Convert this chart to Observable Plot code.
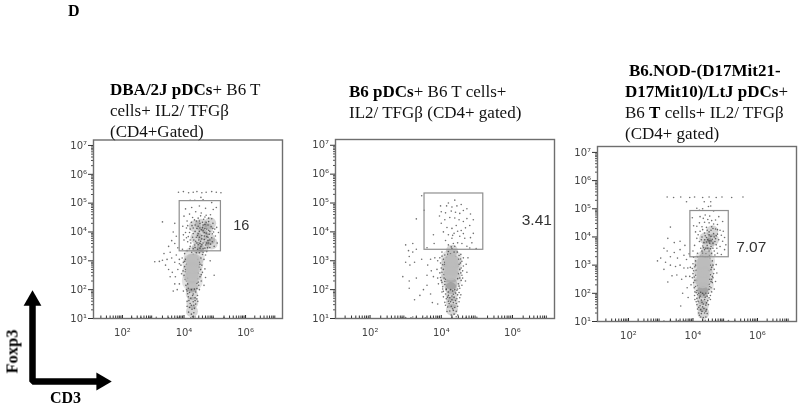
<!DOCTYPE html>
<html><head><meta charset="utf-8">
<script src="https://cdn.jsdelivr.net/npm/d3@7"></script>
<script src="https://cdn.jsdelivr.net/npm/@observablehq/plot@0.6"></script>
<style>
html,body{margin:0;padding:0;background:#fff;}
#page{position:relative;width:800px;height:408px;overflow:hidden;background:#fff;font-family:"Liberation Serif",serif;color:#111;}
.t{position:absolute;font-size:17px;line-height:21px;white-space:nowrap;filter:blur(.3px);}
.t b{color:#000}
.p{position:absolute;filter:blur(.55px);}
.p svg{background:transparent;}
</style></head><body><div id="page"></div>
<script>
// All cloud values are log10 exponents: [CD3, Foxp3]
const majorY=[1,2,3,4,5,6,7];
const majorX=[2,4,6];
const minorOffsets=[0.3,0.48,0.6,0.7,0.78,0.85,0.9,0.95];
const supers={1:"¹",2:"²",3:"³",4:"⁴",5:"⁵",6:"⁶",7:"⁷"};

const gate1X=[3.86,5.2], gate1Y=[3.33,5.07];
const gate2X=[3.53,5.18], gate2Y=[3.38,5.33];
const gate3X=[3.92,5.11], gate3Y=[3.28,4.92];

const core1=[[4.25,2.42],[4.27,2.62],[4.28,2.82],[4.29,3.02]];
const haze1=[[4.27,2.3],[4.27,2.6],[4.29,2.9],[4.33,3.15]];
const tail1=[[4.26,1.25],[4.27,1.55],[4.25,1.85],[4.26,2.1],[4.45,3.45],[4.62,3.5],[4.4,3.8],[4.82,3.75],[4.55,4.25],[4.75,4.1],[4.6,3.9],[4.9,3.6],[4.35,4.2],[4.85,4.3]];
const dots1=[[4.55,3.5],[4.62,3.62],[4.48,3.72],[4.7,3.55],[4.35,3.55],[4.4,3.82],[4.78,3.7],[4.86,3.58],[4.58,3.88],[4.66,3.98],[4.5,4.02],[4.82,3.92],[4.9,3.8],[4.3,3.95],[4.42,4.12],[4.6,4.15],[4.74,4.1],[4.96,4.0],[5.02,3.86],[4.88,4.18],[4.68,4.26],[4.52,4.3],[4.36,4.24],[4.2,4.1],[4.14,3.84],[4.22,3.62],[4.05,3.98],[4.0,3.72],[3.96,4.2],[4.1,4.38],[4.28,4.5],[4.46,4.48],[4.64,4.44],[4.8,4.36],[4.94,4.3],[5.06,4.16],[5.12,3.98],[5.08,3.62],[4.98,3.5],[4.72,4.58],[4.56,4.66],[4.38,4.7],[4.18,4.62],[4.0,4.55],[4.86,4.6],[4.95,4.78],[4.7,4.82],[4.5,4.9],[4.25,4.85],[4.05,4.8],[4.62,3.42],[4.44,3.4],[4.76,3.45],[4.3,3.42],[4.52,3.6],[4.66,3.74],[4.74,3.84],[4.84,4.02],[4.56,4.08],[4.46,3.94],[4.32,3.72],[4.6,4.34],[4.72,4.34],[4.4,4.38],[4.26,4.22],[4.92,3.66],[5.0,4.1],[4.8,4.48],[4.54,4.56],[4.34,4.42],[4.68,3.44],[4.58,3.76],[4.72,3.96],[4.5,3.82],[4.62,4.04],[4.42,3.62],[4.28,3.82],[4.18,3.98],[4.12,4.22],[4.8,3.62],
[4.46,3.56],[4.58,3.56],[4.74,3.62],[4.38,3.68],[4.54,3.68],[4.84,3.72],[4.44,3.88],[4.66,3.86],[4.78,3.82],[4.92,3.94],[4.36,4.02],[4.52,4.14],[4.68,4.12],[4.8,4.06],[4.94,4.12],[4.3,4.14],[4.46,4.2],[4.62,4.24],[4.78,4.24],[4.36,3.46],[4.52,3.44],[4.84,3.46],[4.2,3.5],[4.12,3.66],[4.08,3.8],[4.24,4.34],[4.5,4.38],[4.68,4.52],[4.9,4.46],[4.2,3.72],[3.98,3.9],[4.08,4.14],[4.62,3.3],[4.4,3.28],[4.3,3.22],[4.74,3.32],
[3.95,3.4],[4.02,3.25],[4.1,3.35],[4.18,3.42],[4.25,3.3],[4.5,3.28],[4.6,3.22],[4.55,3.1],[4.65,3.05],[4.7,3.2],[3.94,3.1],[3.98,2.95],[4.02,2.8],[3.97,2.65],[4.0,2.5],[4.04,2.35],[4.06,2.15],[4.08,2.0],[4.5,2.95],[4.58,2.85],[4.54,2.7],[4.6,2.6],[4.52,2.45],[4.56,2.3],[4.48,2.15],[4.5,2.0],[4.05,3.05],[4.08,2.88],[4.06,2.7],[4.1,2.55],[4.12,2.4],[4.12,2.2],[4.14,2.05],[4.45,3.05],[4.48,2.78],[4.46,2.58],[4.44,2.38],[4.42,2.22],[4.42,2.04],[3.9,2.85],[3.92,2.55],[4.68,2.72],[4.7,2.42],[4.65,2.15],[3.98,1.95],[4.18,1.9],[4.3,1.85],[4.38,1.92],[4.14,1.75],[4.22,1.7],[4.36,1.72],[4.44,1.8],[4.1,1.6],[4.2,1.52],[4.3,1.58],[4.38,1.5],[4.18,1.38],[4.26,1.32],[4.34,1.35],[4.15,1.22],[4.24,1.15],[4.32,1.2],[4.28,1.06],[4.22,1.02],[4.36,1.05],[4.1,1.42],[4.45,1.6],
[4.02,2.98],[4.04,2.62],[4.08,2.3],[4.52,2.88],[4.56,2.52],[4.46,2.26],[4.1,1.95],[4.24,2.0],[4.34,2.02],[4.12,1.86],[4.28,1.8],[4.42,1.68],[4.16,1.62],[4.32,1.46],[4.24,1.46],[4.36,1.62],
[3.85,3.05],[3.75,3.2],[3.7,2.95],[3.6,3.1],[3.55,3.3],[3.45,3.05],[3.4,2.85],[3.5,2.7],[3.62,2.6],[3.72,2.45],[3.8,2.7],[3.3,3.02],[3.2,2.98],[3.05,2.97],[3.35,3.25],[3.5,3.5],[3.6,3.7],[3.7,3.6],[3.75,3.85],[3.65,4.0],[3.8,3.45],[3.55,2.45],[3.7,2.2],[3.78,2.0],[3.65,1.95],[3.85,2.2],[3.85,2.9],[3.3,4.35],[3.7,4.3],
[3.82,5.38],[3.98,5.4],[4.15,5.36],[4.3,5.38],[4.42,5.4],[4.58,5.36],[4.72,5.38],[4.9,5.4],[5.05,5.38],[5.2,5.36],[4.55,5.2],[4.35,5.1],[4.62,5.12],[4.2,5.1],[4.9,5.02],[5.05,4.85],[4.98,2.5],[4.85,3.0],
[2.3,1.02],[2.6,1.03],[2.9,1.02],[3.1,1.04],[3.5,1.02],[3.8,1.03],[4.7,1.04],[4.95,1.02],[5.3,1.03]];

const core2=[[4.27,2.55],[4.28,2.72],[4.29,2.9],[4.29,3.02]];
const haze2=[[4.27,2.35],[4.27,2.6],[4.28,2.85],[4.29,3.05]];
const tail2=[[4.3,1.3],[4.3,1.55],[4.29,1.8],[4.27,2.05],[4.28,2.2],[4.3,3.35]];
const dots2=[[4.02,3.3],[4.1,3.2],[4.2,3.32],[4.3,3.42],[4.38,3.5],[4.45,3.3],[4.55,3.22],[4.62,3.1],[3.96,3.1],[3.98,2.92],[4.0,2.75],[3.96,2.58],[3.98,2.42],[4.02,2.25],[4.04,2.1],[4.58,2.98],[4.62,2.82],[4.6,2.65],[4.58,2.5],[4.56,2.32],[4.58,2.15],[4.52,2.05],[4.06,3.05],[4.1,2.88],[4.06,2.7],[4.08,2.52],[4.12,2.36],[4.1,2.18],[4.14,2.02],[4.48,3.05],[4.5,2.88],[4.52,2.7],[4.48,2.55],[4.46,2.38],[4.48,2.2],[4.46,2.02],[3.9,3.0],[3.88,2.7],[3.9,2.4],[4.7,2.88],[4.72,2.6],[4.68,2.3],[4.75,3.1],[4.15,3.12],[4.4,3.15],[4.02,1.92],[4.12,1.85],[4.2,1.92],[4.32,1.95],[4.4,1.88],[4.5,1.9],[4.06,1.75],[4.14,1.68],[4.24,1.72],[4.36,1.74],[4.44,1.68],[4.52,1.72],[4.1,1.56],[4.22,1.52],[4.34,1.55],[4.42,1.52],[4.5,1.58],[4.18,1.4],[4.28,1.42],[4.38,1.38],[4.46,1.42],[4.24,1.26],[4.34,1.28],[4.42,1.25],[4.28,1.12],[4.36,1.15],[4.3,1.04],[4.42,1.06],[4.16,1.24],[4.46,1.12],[4.2,1.6],[4.3,1.65],[4.14,2.0],[4.2,1.8],[4.34,1.84],[4.04,2.02],[4.44,1.98],[4.02,2.6],[4.56,2.75],[4.6,2.4],[4.1,2.95],[4.54,3.06],[3.92,2.2],[4.55,1.82],
[4.04,2.86],[4.02,3.16],[4.08,2.4],[4.0,2.32],[4.54,2.92],[4.55,2.58],[4.52,2.4],[4.5,2.12],[4.1,2.28],[4.06,1.94],[4.26,2.0],[4.38,2.0],[4.18,1.74],[4.3,1.78],[4.46,1.82],[4.12,1.46],[4.26,1.58],[4.4,1.62],[4.32,1.34],[4.26,3.24],[4.36,3.3],[4.18,3.22],[4.5,3.18],
[4.28,3.48],[4.2,3.55],[4.34,3.6],[4.12,3.7],[4.3,3.78],[4.46,3.62],[4.58,3.6],[4.72,3.5],[4.8,3.44],[4.98,3.42],[4.2,3.9],[4.36,3.95],[4.52,3.85],[4.66,3.78],[4.82,3.8],[4.9,3.95],[4.06,4.0],[4.16,4.15],[4.3,4.12],[4.42,4.22],[4.56,4.05],[4.68,4.14],[4.8,4.22],[4.9,4.42],[4.0,4.3],[3.95,4.55],[4.1,4.42],[4.24,4.5],[4.38,4.48],[4.5,4.42],[4.62,4.36],[4.72,4.46],[4.82,4.62],[4.0,4.7],[4.12,4.66],[4.28,4.72],[4.4,4.68],[4.52,4.64],[4.62,4.74],[4.72,4.8],[4.15,4.9],[4.3,4.86],[4.44,4.9],[4.56,4.95],[4.38,5.1],[4.2,5.0],[3.98,4.9],[4.32,3.88],[4.62,3.94],[4.46,4.02],[3.8,3.6],[3.78,3.9],[3.6,3.45],[4.86,3.62],
[3.82,3.1],[3.7,3.05],[3.62,2.85],[3.72,2.65],[3.78,2.45],[3.6,2.5],[3.45,3.05],[3.3,3.4],[3.2,3.3],[3.1,3.15],[3.08,3.35],[3.0,3.55],[3.2,3.6],[3.12,2.85],[3.0,2.95],[3.25,2.95],[2.92,2.45],[3.1,2.3],[3.3,2.4],[3.5,2.0],[3.6,2.15],[3.4,1.8],[3.25,1.65],[3.7,1.85],[3.75,1.55],[3.9,1.5],[3.3,4.45],[3.52,4.75],[3.45,5.25],[3.1,2.05],
[2.9,1.02],[3.0,1.03],[3.15,1.02],[3.3,1.04],[3.55,1.02],[3.7,1.03],[3.9,1.05],[4.7,1.03],[4.85,1.02],[5.0,1.04],[3.2,1.05]];

const core3=[[4.3,2.42],[4.32,2.62],[4.32,2.82],[4.33,3.02],[4.35,3.18]];
const haze3=[[4.32,2.3],[4.32,2.6],[4.33,2.9],[4.36,3.15]];
const tail3=[[4.32,1.3],[4.3,1.55],[4.3,1.8],[4.3,2.05],[4.32,2.2],[4.42,3.45],[4.48,3.75],[4.38,3.95],[4.62,3.9],[4.6,4.2]];
const dots3=[[4.4,3.4],[4.5,3.5],[4.36,3.55],[4.58,3.42],[4.3,3.42],[4.24,3.6],[4.44,3.7],[4.56,3.66],[4.66,3.5],[4.76,3.42],[4.88,3.38],[4.34,3.8],[4.2,3.84],[4.5,3.86],[4.62,3.78],[4.72,3.72],[4.84,3.66],[4.98,3.55],[4.12,3.95],[4.28,4.0],[4.42,3.98],[4.56,4.02],[4.7,3.94],[4.8,3.9],[4.92,3.85],[5.02,3.72],[4.05,3.7],[4.0,3.5],[4.14,3.42],[4.08,4.18],[4.22,4.2],[4.36,4.14],[4.5,4.18],[4.64,4.12],[4.76,4.1],[4.88,4.06],[4.98,3.98],[4.12,4.38],[4.28,4.36],[4.42,4.34],[4.58,4.36],[4.7,4.28],[4.84,4.24],[4.94,4.2],[4.2,4.5],[4.36,4.52],[4.5,4.5],[4.64,4.46],[4.76,4.44],[4.32,4.66],[4.46,4.62],[4.58,4.58],[4.7,4.6],[4.22,4.72],[4.38,4.78],[4.52,4.74],[4.4,3.6],[4.52,3.78],[4.3,3.68],[4.6,3.92],[4.46,3.9],[4.38,4.04],[4.66,4.0],[4.16,4.08],[4.74,3.6],[4.28,3.5],[4.56,4.24],[4.02,4.4],[3.98,4.68],[4.3,5.0],[4.12,5.02],[4.48,5.08],[4.64,4.92],[4.55,5.1],[4.2,4.95],[4.8,4.72],[4.92,4.55],
[4.46,3.6],[4.54,3.58],[4.62,3.6],[4.32,3.62],[4.42,3.82],[4.56,3.86],[4.68,3.84],[4.26,3.9],[4.36,3.9],[4.5,4.08],[4.72,4.04],[4.3,4.26],[4.44,4.24],[4.62,4.3],[4.76,4.26],[4.24,3.34],[4.44,3.3],[4.5,3.34],[4.68,3.36],
[4.02,3.28],[4.08,3.15],[4.14,3.3],[4.52,3.24],[4.6,3.15],[4.62,3.0],[4.66,2.85],[4.64,2.7],[4.62,2.55],[4.6,2.38],[4.56,2.2],[4.58,2.05],[4.0,3.05],[3.98,2.88],[4.0,2.7],[3.98,2.55],[4.02,2.38],[4.04,2.2],[4.06,2.05],[4.08,3.0],[4.1,2.82],[4.08,2.64],[4.12,2.46],[4.14,2.28],[4.12,2.1],[4.54,3.0],[4.56,2.84],[4.54,2.66],[4.52,2.5],[4.5,2.32],[4.5,2.14],[3.92,2.92],[3.9,2.6],[3.94,2.3],[4.72,3.02],[4.74,2.72],[4.7,2.42],[4.66,2.15],[4.05,1.92],[4.14,1.95],[4.22,1.9],[4.34,1.94],[4.44,1.9],[4.54,1.92],[4.06,1.78],[4.16,1.72],[4.26,1.76],[4.36,1.78],[4.46,1.74],[4.54,1.78],[4.12,1.6],[4.22,1.56],[4.32,1.62],[4.4,1.58],[4.48,1.6],[4.14,1.44],[4.24,1.42],[4.34,1.46],[4.42,1.42],[4.18,1.3],[4.26,1.28],[4.36,1.3],[4.44,1.28],[4.24,1.16],[4.32,1.14],[4.4,1.16],[4.3,1.05],[4.38,1.04],[4.2,1.22],[4.12,1.82],[4.4,2.0],[4.24,2.04],[4.1,2.02],[4.48,2.0],[4.02,2.8],[4.6,2.6],[4.06,2.46],[4.5,2.8],[4.56,2.42],
[4.06,2.94],[4.04,2.58],[4.08,2.24],[4.58,2.92],[4.58,2.5],[4.52,2.24],[4.18,2.0],[4.3,2.0],[4.2,1.84],[4.38,1.86],[4.5,1.84],[4.1,1.7],[4.28,1.68],[4.42,1.66],[4.18,1.5],[4.3,1.52],[4.28,1.36],[4.4,1.36],[4.3,3.32],[4.38,3.3],
[3.88,3.4],[3.8,3.2],[3.72,3.35],[3.6,3.55],[3.52,3.25],[3.42,3.45],[3.3,3.3],[3.2,3.5],[3.1,3.6],[3.0,3.25],[3.15,3.1],[3.3,3.0],[3.46,2.95],[3.6,3.0],[3.72,2.9],[3.84,2.9],[3.78,2.6],[3.65,2.5],[3.5,2.65],[3.35,2.62],[3.75,3.7],[3.6,3.85],[3.42,3.8],[3.3,4.35],[3.22,3.95],[3.82,2.2],[3.68,2.0],[3.85,1.85],[3.62,1.55],[3.22,2.4],[3.1,2.85],[2.9,3.15],
[3.2,5.42],[3.4,5.4],[3.62,5.42],[3.9,5.4],[4.05,5.42],[4.3,5.4],[4.5,5.42],[4.72,5.4],[4.9,5.42],[5.2,5.4],[5.55,5.42],[3.8,5.25],[4.35,5.25],[4.55,5.25],
[2.9,1.03],[3.1,1.02],[3.3,1.04],[3.55,1.03],[3.75,1.02],[3.95,1.04],[4.7,1.03],[4.9,1.02],[5.1,1.03],[5.3,1.02]];

const label1="16", label2="3.41", label3="7.07";
const labelPos1=[5.6,4.22], labelPos2=[6.26,4.42], labelPos3=[5.34,3.64];

const titles=[
 {x:110,y:79,html:"<b>DBA/2J pDCs</b>+ B6 T<br>cells+ IL2/ TFGβ<br>(CD4+Gated)"},
 {x:349,y:81,html:"<b>B6 pDCs</b>+ B6 T cells+<br>IL2/ TFGβ (CD4+ gated)"},
 {x:625,y:60,html:"<b style='margin-left:4px'>B6.NOD-(D17Mit21-</b><br><b>D17Mit10)/LtJ pDCs</b>+<br>B6 <b>T</b> cells+ IL2/ TFGβ<br>(CD4+ gated)"}
];

const page=document.getElementById("page");
const pow=e=>10**e;
const minors=d3.range(1,7).flatMap(d=>minorOffsets.map(o=>pow(d+o)));
function panel({left,top,width,height,ml,mr,mt,mb,xd,yd,gx,gy,core,haze,tail,dots,label,lp,labelFont}){
  const fig=Plot.plot({
    width,height,marginLeft:ml,marginRight:mr,marginTop:mt,marginBottom:mb,
    style:{background:"transparent",overflow:"visible"},
    x:{type:"log",domain:xd.map(pow),axis:null},
    y:{type:"log",domain:yd.map(pow),axis:null},
    marks:[
      Plot.dot(haze,{x:d=>pow(d[0]),y:d=>pow(d[1]),r:10.5,fill:"#333",fillOpacity:.14}),
      Plot.dot(tail,{x:d=>pow(d[0]),y:d=>pow(d[1]),r:6,fill:"#333",fillOpacity:.2}),
      Plot.dot(dots,{x:d=>pow(d[0]),y:d=>pow(d[1]),r:.8,fill:"#222",fillOpacity:.65}),
      Plot.dot(core,{x:d=>pow(d[0]),y:d=>pow(d[1]),r:6.8,fill:"#bcbcbc",fillOpacity:.85}),
      Plot.rect([0],{x1:pow(gx[0]),x2:pow(gx[1]),y1:pow(gy[0]),y2:pow(gy[1]),fill:"none",stroke:"#8f8f8f",strokeWidth:1.2}),
      Plot.frame({stroke:"#6e6e6e",strokeWidth:1.4}),
      Plot.axisX({ticks:minors,tickSize:-2.5,tickFormat:null,stroke:"#333",text:null}),
      Plot.axisY({ticks:minors,tickSize:2,tickFormat:null,stroke:"#555",text:null}),
      Plot.axisX({ticks:majorX.map(pow),tickSize:-3,tickPadding:13,stroke:"#222",tickFormat:v=>"10"+supers[Math.round(Math.log10(v))],fontSize:10,fill:"#444",fontFamily:"DejaVu Sans"}),
      Plot.axisY({ticks:majorY.map(pow),tickSize:5,tickPadding:1.5,stroke:"#333",tickFormat:v=>"10"+supers[Math.round(Math.log10(v))],fontSize:10,fill:"#444",fontFamily:"DejaVu Sans"}),
      Plot.text([label],{x:pow(lp[0]),y:pow(lp[1]),text:d=>d,textAnchor:"start",fontSize:labelFont,fill:"#333",fontFamily:"Liberation Sans"})
    ]
  });
  const box=document.createElement("div");
  box.className="p";box.style.left=left+"px";box.style.top=top+"px";
  box.appendChild(fig);page.appendChild(box);
}
panel({left:55,top:125,width:240,height:225,ml:38,mr:13,mt:14.5,mb:32,xd:[1.06,7.2],yd:[1,7.19],gx:gate1X,gy:gate1Y,core:core1,haze:haze1,tail:tail1,dots:dots1,label:label1,lp:labelPos1,labelFont:14.5});
panel({left:297,top:125,width:265,height:225,ml:38,mr:8,mt:14,mb:32,xd:[1.03,7.18],yd:[1,7.2],gx:gate2X,gy:gate2Y,core:core2,haze:haze2,tail:tail2,dots:dots2,label:label2,lp:labelPos2,labelFont:15.5});
panel({left:562,top:132,width:238,height:222,ml:35,mr:4,mt:14,mb:33,xd:[1.04,7.21],yd:[1,7.21],gx:gate3X,gy:gate3Y,core:core3,haze:haze3,tail:tail3,dots:dots3,label:label3,lp:labelPos3,labelFont:15.5});

for(const t of titles){
  const d=document.createElement("div");d.className="t";d.style.left=t.x+"px";d.style.top=t.y+"px";d.innerHTML=t.html;page.appendChild(d);
}
function text(s,x,y,extra=""){
  const d=document.createElement("div");d.className="t";d.style.cssText=`left:${x}px;top:${y}px;font-weight:bold;color:#000;${extra}`;d.textContent=s;page.appendChild(d);
}
text("D",68,0,"font-size:16px");
text("CD3",50,387,"font-size:16px");
text("Foxp3",-10,341,"font-size:16.5px;transform:rotate(-90deg);transform-origin:center;");

// Axis-direction arrows: unit-square guide drawn through the library
const corner=[[0,1],[0,0],[1,0]];
const arrows=Plot.plot({
  width:95,height:98,marginLeft:12,marginRight:14,marginTop:7,marginBottom:10,
  x:{domain:[0,1],axis:null},y:{domain:[0,1],axis:null},
  style:{background:"transparent",overflow:"visible"},
  marks:[
    Plot.line(corner,{x:d=>d[0],y:d=>d[1],stroke:"#000",strokeWidth:6.5,strokeLinejoin:"miter"}),
    Plot.dot([corner[0]],{x:d=>d[0],y:d=>d[1],symbol:"triangle2",r:8.5,fill:"#000"}),
    Plot.dot([corner[2]],{x:d=>d[0],y:d=>d[1],symbol:"triangle2",rotate:90,r:8.5,fill:"#000"})
  ]
});
const ab=document.createElement("div");ab.style.cssText="position:absolute;left:20px;top:293px;filter:blur(.4px)";ab.appendChild(arrows);page.appendChild(ab);
</script></body></html>
